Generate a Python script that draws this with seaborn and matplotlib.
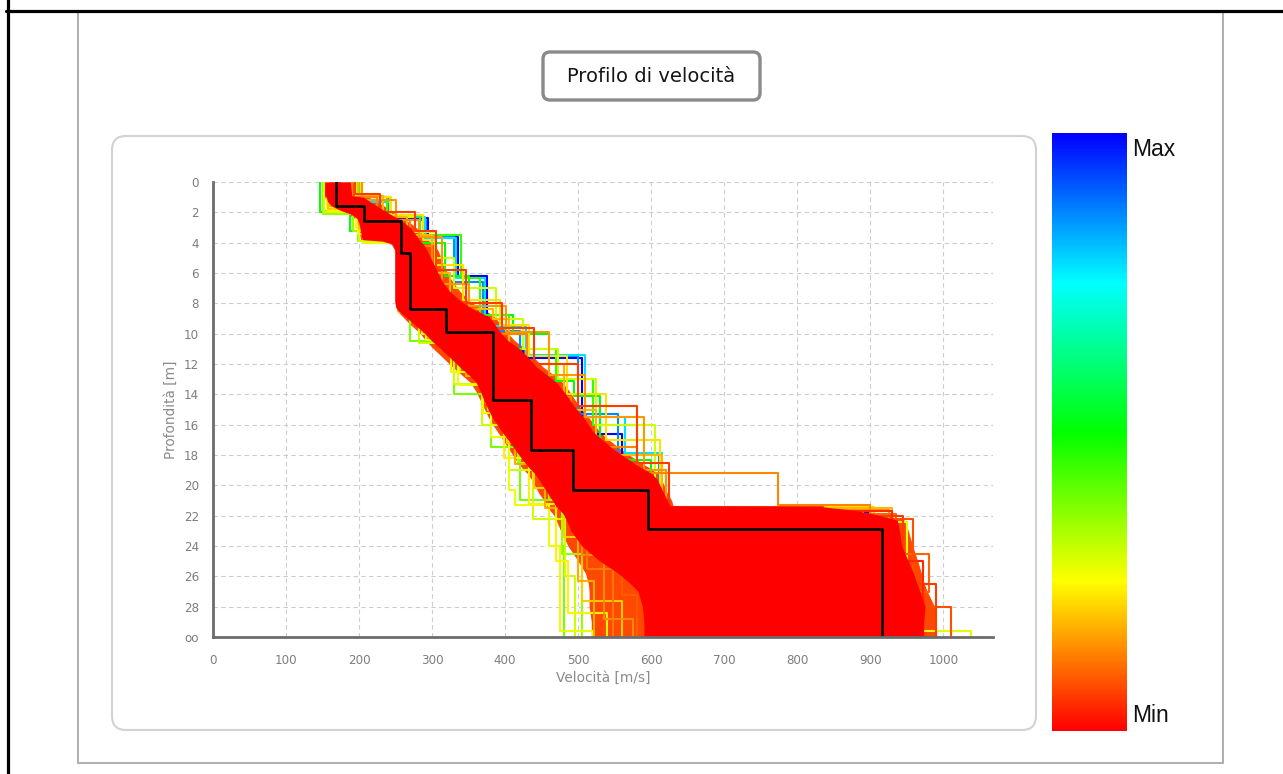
import numpy as np
import pandas as pd
import matplotlib
matplotlib.use("Agg")
import matplotlib.pyplot as plt
import seaborn as sns
from matplotlib.colors import LinearSegmentedColormap, Normalize
from matplotlib.cm import ScalarMappable
from matplotlib.patches import FancyBboxPatch, Rectangle
from matplotlib.lines import Line2D
from matplotlib.transforms import IdentityTransform

# ---------------------------------------------------------------- data
HALF_SPACE_DEPTH = 30.0

# best-fit shear-wave profile (layer bottoms in m, velocities in m/s)
best_interfaces = [1.6, 2.6, 4.7, 8.4, 9.9, 14.4, 17.7, 20.3, 22.9]
best_velocity = [168, 207, 257, 270, 319, 384, 436, 493, 595, 916]

# envelope of the accepted (lowest-misfit) models
envelope_depth = [0.0, 0.9, 1.0, 1.3, 1.6, 1.9, 2.1, 2.4, 2.7, 3.0, 3.5, 3.8, 3.9, 4.1, 4.5,
                  5.0, 5.6, 6.2, 6.7, 7.2, 7.8, 8.2, 8.5, 8.9, 9.4, 9.9, 10.5, 11.0,
                  11.6, 12.2, 12.7, 13.2, 13.8, 14.4, 15.0, 15.5, 16.0, 16.5, 17.0,
                  17.6, 18.2, 18.8, 19.2, 19.6, 20.5, 21.0, 21.35, 21.4, 21.6, 21.8, 22.0,
                  22.3, 23.0, 24.0, 25.0, 25.8, 26.5, 27.0, 28.0, 29.0, 30.0]
core_left = [153, 153, 155, 157, 163, 176, 188, 197, 200, 201, 203, 204, 232, 246, 249,
             249, 249, 249, 249, 249, 249, 250, 254, 264, 276, 288, 300, 312,
             325, 338, 350, 360, 366, 371, 377, 382, 389, 396, 404,
             413, 422, 432, 440, 446, 458, 465, 469, 470, 474, 478, 481,
             484, 490, 505, 530, 555, 572, 582, 588, 590, 590]
core_right = [188, 190, 206, 215, 225, 235, 242, 253, 262, 270, 278, 282, 284, 288, 293,
              298, 304, 310, 316, 324, 338, 350, 362, 378, 386, 393, 405, 420,
              432, 443, 457, 470, 480, 489, 498, 507, 514, 521, 533,
              548, 566, 585, 600, 608, 617, 622, 626, 831, 870, 896, 914,
              937, 940, 943, 952, 959, 964, 968, 975, 973, 973]
halo_left = [151, 151, 153, 155, 160, 172, 184, 194, 198, 199, 201, 202, 228, 244, 249,
             249, 249, 249, 249, 249, 249, 250, 252, 260, 270, 282, 292, 302,
             315, 328, 340, 352, 360, 366, 372, 377, 383, 390, 397,
             405, 413, 422, 430, 436, 446, 453, 456, 457, 460, 464, 467,
             470, 476, 486, 500, 510, 514, 515, 515, 518, 518]
halo_right = [197, 199, 213, 225, 235, 243, 250, 260, 270, 278, 288, 294, 296, 302, 308,
              312, 317, 323, 330, 338, 350, 362, 374, 386, 394, 402, 414, 428,
              440, 452, 466, 478, 488, 496, 505, 514, 522, 530, 542,
              558, 576, 596, 608, 614, 622, 628, 630, 835, 880, 905, 924,
              947, 952, 958, 965, 970, 974, 978, 988, 990, 990]

# individual higher-misfit models (misfit normalised 0 = min, 1 = max)
model_misfit = [1.00, 0.86, 0.78, 0.50, 0.45, 0.38,
                0.35, 0.30, 0.27, 0.24, 0.20, 0.17, 0.14, 0.12, 0.09,
                0.30, 0.22, 0.18, 0.15, 0.06,
                0.28, 0.13, 0.10, 0.08, 0.06, 0.04]
model_interfaces = [
    [1.0, 2.35, 3.6, 6.2, 9.5, 11.6, 16.6, 19.0, 21.8],
    [1.0, 2.5, 3.6, 6.6, 9.8, 11.5, 15.3, 18.0, 21.5],
    [1.3, 2.3, 3.7, 6.3, 9.5, 11.4, 15.5, 17.9, 21.6],
    [2.0, 3.2, 4.0, 6.2, 8.8, 10.0, 13.1, 14.1, 18.3, 21.8],
    [1.0, 2.2, 3.5, 6.3, 8.8, 11.0, 13.0, 16.0, 19.0, 21.9],
    [1.9, 3.9, 8.3, 10.5, 14.0, 17.5, 21.0, 24.0],
    [2.1, 3.2, 8.6, 10.0, 12.5, 15.0, 18.5, 21.0, 24.5],
    [2.0, 3.9, 8.4, 10.6, 13.3, 16.0, 19.0, 22.2, 26.0],
    [1.7, 3.0, 4.0, 8.6, 10.4, 13.4, 16.8, 20.3, 21.3, 24.0, 29.6],
    [1.9, 3.4, 8.5, 10.0, 12.5, 15.2, 18.2, 21.2, 25.0, 28.4],
    [1.8, 3.1, 8.4, 9.8, 12.0, 14.6, 17.2, 20.2, 23.4, 27.6],
    [1.6, 2.9, 8.6, 10.3, 12.8, 15.0, 18.6, 21.5, 26.3],
    [1.5, 2.8, 8.4, 10.0, 12.2, 14.5, 17.8, 20.8, 24.6, 28.8],
    [1.4, 2.7, 8.5, 10.2, 12.6, 14.8, 18.0, 21.0, 25.5],
    [1.5, 2.6, 8.3, 9.9, 12.0, 14.4, 17.5, 20.5, 24.0, 27.2],
    [1.0, 2.3, 3.3, 5.0, 7.0, 9.0, 11.0, 13.0, 16.0, 21.5],
    [1.0, 2.2, 3.8, 5.5, 7.8, 9.4, 11.5, 14.0, 17.0, 21.4],
    [0.9, 2.3, 3.5, 6.0, 8.4, 9.0, 12.0, 15.0, 18.0, 21.5],
    [1.2, 2.5, 3.6, 6.7, 8.2, 9.9, 12.7, 15.5, 19.0, 21.6],
    [0.8, 2.0, 3.2, 5.8, 8.0, 9.6, 12.0, 14.8, 18.5, 21.45],
    [1.5, 2.6, 4.7, 8.4, 9.9, 14.3, 17.7, 20.3, 22.4, 29.6],
    [1.0, 2.5, 4.2, 8.4, 10.0, 14.2, 17.5, 19.2, 21.3],
    [1.5, 2.6, 4.6, 8.3, 10.0, 14.2, 17.6, 20.2, 21.9, 24.5, 27.0],
    [1.4, 2.5, 4.8, 8.5, 9.8, 14.0, 17.8, 20.4, 22.2, 28.0],
    [1.6, 2.7, 4.5, 8.2, 10.1, 14.5, 17.5, 20.0, 22.0, 26.5],
    [1.5, 2.6, 4.6, 8.3, 10.0, 14.3, 17.7, 20.2, 21.7, 25.0],
]
model_velocity = [
    [201, 242, 295, 336, 375, 425, 505, 560, 620, 900],
    [196, 240, 292, 330, 370, 420, 500, 555, 610, 860],
    [199, 243, 290, 333, 373, 428, 510, 564, 615, 880],
    [147, 188, 230, 318, 350, 411, 460, 494, 530, 600, 850],
    [200, 238, 283, 340, 365, 405, 470, 520, 580, 620, 920],
    [150, 199, 255, 270, 330, 380, 420, 470, 480],
    [150, 192, 255, 290, 338, 376, 418, 460, 478, 505],
    [152, 200, 255, 282, 330, 368, 405, 438, 482, 495],
    [156, 196, 205, 255, 292, 335, 380, 405, 414, 460, 475, 520],
    [157, 199, 255, 286, 326, 370, 398, 432, 470, 486, 540],
    [158, 200, 255, 292, 340, 374, 402, 440, 480, 505, 560],
    [160, 201, 255, 294, 347, 378, 414, 455, 500, 522],
    [161, 200, 255, 296, 350, 380, 420, 462, 505, 535, 575],
    [162, 202, 255, 298, 352, 384, 424, 466, 512, 548],
    [163, 203, 255, 300, 355, 386, 428, 470, 518, 560, 580],
    [196, 244, 276, 306, 330, 388, 425, 472, 525, 605, 890],
    [203, 243, 288, 304, 342, 393, 432, 485, 538, 612, 905],
    [199, 233, 265, 300, 325, 384, 405, 480, 525, 615, 930],
    [204, 250, 282, 314, 350, 401, 460, 510, 590, 620, 925],
    [194, 228, 276, 305, 346, 396, 440, 500, 580, 624, 835],
    [171, 208, 256, 271, 320, 386, 438, 496, 600, 950, 1038],
    [190, 225, 270, 300, 360, 430, 490, 580, 774, 900],
    [172, 212, 260, 275, 325, 390, 440, 500, 600, 935, 980, 965],
    [170, 210, 258, 272, 322, 388, 445, 505, 605, 959, 1010],
    [174, 214, 262, 278, 330, 392, 448, 498, 598, 945, 990],
    [169, 209, 257, 273, 321, 385, 437, 494, 597, 930, 972],
]

x_ticks = [0, 100, 200, 300, 400, 500, 600, 700, 800, 900, 1000]
depth_ticks = [0, 2, 4, 6, 8, 10, 12, 14, 16, 18, 20, 22, 24, 26, 28, 30]
depth_tick_labels = ["0", "2", "4", "6", "8", "10", "12", "14", "16", "18", "20",
                     "22", "24", "26", "28", "oo"]


def step_profile(interfaces, velocity):
    """Turn layer bottoms + velocities into a vertical step polyline."""
    tops = [0.0] + list(interfaces)
    bots = list(interfaces) + [HALF_SPACE_DEPTH]
    vs, zs = [], []
    for v, t, b in zip(velocity, tops, bots):
        vs += [v, v]
        zs += [t, b]
    return vs, zs


misfit_cmap = LinearSegmentedColormap.from_list(
    "misfit", ["#ff0000", "#ffff00", "#00ff00", "#00ffff", "#0000ff"])

# long-form table of the individual models, worst first so the best lie on top
rows = []
order = np.argsort(model_misfit, kind="stable")[::-1]
for rank, i in enumerate(order):
    vs, zs = step_profile(model_interfaces[i], model_velocity[i])
    for v, z in zip(vs, zs):
        rows.append({"model": f"m{rank:02d}", "v": v, "z": z})
models = pd.DataFrame(rows)
hue_order = [f"m{rank:02d}" for rank in range(len(order))]
palette = {f"m{rank:02d}": misfit_cmap(model_misfit[i]) for rank, i in enumerate(order)}

bv, bz = step_profile(best_interfaces, best_velocity)
best = pd.DataFrame({"v": bv, "z": bz})

# ---------------------------------------------------------------- figure
sns.set_style("white")
plt.rcParams["font.family"] = ["DejaVu Sans"]

W, H = 1283, 774
fig = plt.figure(figsize=(W / 100, H / 100), dpi=100)
fig.patch.set_facecolor("white")
pix = IdentityTransform()


def fx(x):
    return x / W


def fy(y):
    return 1 - y / H


# page frame
fig.add_artist(Line2D([7.5, 7.5], [0, H], transform=pix, color="black", lw=2.3))
fig.add_artist(Line2D([6, W], [H - 10.5, H - 10.5], transform=pix, color="black", lw=2.3))
fig.add_artist(Rectangle((78, H - 763), 1223 - 78, 763 - 12, transform=pix,
                         fill=False, ec="#a8a8a8", lw=1.3))
fig.add_artist(FancyBboxPatch((112, H - 730), 1036 - 112, 730 - 136,
                              boxstyle="round,pad=0,rounding_size=14", transform=pix,
                              fill=False, ec="#d2d2d2", lw=1.5))
fig.add_artist(FancyBboxPatch((543, H - 100), 760 - 543, 100 - 52,
                              boxstyle="round,pad=0,rounding_size=7", transform=pix,
                              fill=False, ec="#8a8a8a", lw=2.4))
fig.text(fx(651), fy(76), "Profilo di velocità", ha="center", va="center",
         fontsize=14, color="#151515")

ax = fig.add_axes([fx(213), fy(637), (993 - 213) / W, (637 - 182) / H])
ax.set_facecolor("white")

ax.fill_betweenx(envelope_depth, halo_left, halo_right,
                 color="#ff4800", lw=0, zorder=1)
sns.lineplot(data=models, x="v", y="z", hue="model", hue_order=hue_order,
             palette=palette, estimator=None, sort=False, legend=False,
             lw=1.5, ax=ax, zorder=2)
ax.fill_betweenx(envelope_depth, core_left, core_right,
                 color="#ff0000", lw=0, zorder=3)
sns.lineplot(data=best, x="v", y="z", estimator=None, sort=False, color="black",
             lw=1.9, ax=ax, zorder=4)

ax.set_xlim(0, 1068)
ax.set_ylim(HALF_SPACE_DEPTH, 0)
ax.set_xticks(x_ticks)
ax.set_xticks(np.arange(50, 1068, 100), minor=True)
ax.set_yticks(depth_ticks)
ax.set_yticklabels(depth_tick_labels)
ax.set_yticks(np.arange(1, 30, 2), minor=True)

ax.grid(True, which="major", color="#cdcdcd", lw=0.8, ls=(0, (4, 3)))
ax.set_axisbelow(True)
for side in ("top", "right"):
    ax.spines[side].set_visible(False)
for side in ("left", "bottom"):
    ax.spines[side].set_color("#6c6c6c")
    ax.spines[side].set_linewidth(2.0)
    ax.spines[side].set_zorder(5)
ax.tick_params(which="major", direction="out", length=6, width=1.5, color="#6c6c6c",
               labelcolor="#7d7d7d", labelsize=8.6)
ax.tick_params(which="minor", direction="out", length=3.6, width=1.5, color="#6c6c6c")
ax.tick_params(axis="x", pad=6)
ax.tick_params(axis="y", pad=4)
ax.set_xlabel("Velocità [m/s]", fontsize=9.8, color="#8a8a8a", labelpad=3)
ax.set_ylabel("Profondità [m]", fontsize=9.8, color="#8a8a8a", labelpad=4)

# misfit colour scale
cax = fig.add_axes([fx(1052), fy(731), 75 / W, (731 - 133) / H])
cbar = fig.colorbar(ScalarMappable(norm=Normalize(0, 1), cmap=misfit_cmap), cax=cax)
cbar.set_ticks([])
cbar.outline.set_visible(False)
fig.text(fx(1132), fy(150), "Max", ha="left", va="center", fontsize=16.5,
         family="Liberation Sans", color="#111111")
fig.text(fx(1132), fy(715), "Min", ha="left", va="center", fontsize=16.5,
         family="Liberation Sans", color="#111111")

fig.savefig("out.png", dpi=100, facecolor="white")
